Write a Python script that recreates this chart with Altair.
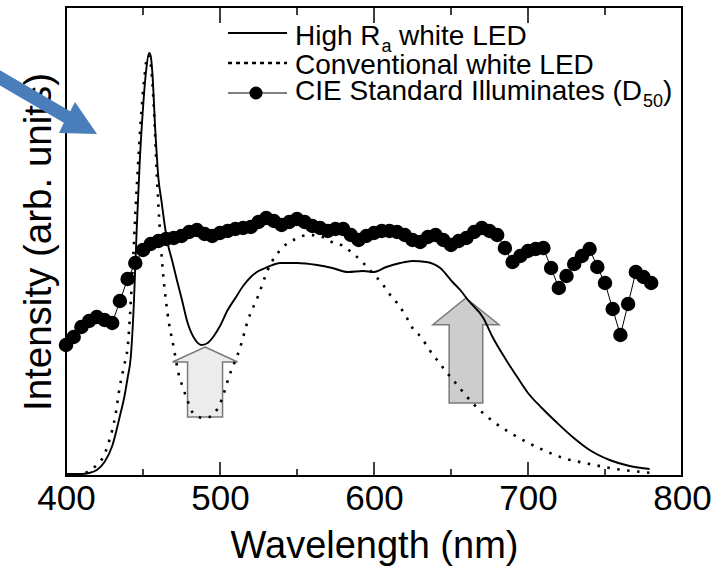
import altair as alt
import pandas as pd

# ---------------- data ----------------
wl_ra = [400, 405, 410, 415, 420, 425, 430, 435, 438, 440, 442, 444, 446, 448, 450, 452, 454, 455,
         456, 458, 460, 462, 464, 466, 469, 472, 475, 479, 484, 488, 492, 496, 500, 505, 510, 515,
         520, 525, 531, 539, 550, 563, 573, 583, 593, 600, 608, 617, 625, 634, 643, 651, 656, 661,
         671, 677, 685, 693, 700, 709, 719, 729, 740, 753, 766, 779]
int_ra = [2, 2, 2, 3, 6, 14, 30, 60, 80, 98, 118, 170, 250, 318, 368, 405, 423, 420,
          405, 345, 298, 275, 252, 233, 215, 196, 178, 153, 136, 131, 133, 140, 150, 166, 178, 190,
          199, 205, 209, 213, 213, 211, 208, 204, 205, 204, 209, 213, 215, 214, 208, 194, 186, 176,
          158, 139, 118, 99, 83, 68, 53, 39, 26, 16, 10, 7]

wl_conv = [400, 405, 408, 415, 420, 423, 428, 432, 435, 438, 440, 443, 446, 449, 451, 453, 455, 457,
           459, 462, 466, 470, 473, 476, 479, 482, 485, 489, 493, 497, 501, 506, 513, 518, 525, 531,
           541, 549, 557, 565, 571, 580, 586, 593, 599, 605, 610, 616, 621, 625, 631, 636, 642, 647,
           653, 664, 677, 692, 707, 723, 740, 757, 774, 780]
int_conv = [1, 1, 1, 5, 11, 16, 35, 60, 90, 112, 128, 200, 290, 365, 400, 421, 412, 370,
            300, 222, 162, 128, 103, 88, 75, 64, 60, 58, 59, 64, 76, 100, 128, 155, 181, 206,
            229, 237, 241, 240, 235, 230, 223, 213, 203, 193, 182, 171, 159, 148, 138, 126, 114, 104,
            93, 73, 55, 40, 28, 18, 12, 7, 4, 3]

wl_d50 = list(range(400, 785, 5))
int_d50 = [131, 139, 149, 155, 159, 156, 153, 175, 197, 213, 226, 232, 235, 237, 238, 240, 244, 246,
           242, 240, 243, 245, 247, 248, 249, 254, 258, 255, 251, 254, 257, 254, 250, 248, 245, 247,
           247, 241, 236, 240, 243, 245, 245, 244, 241, 236, 234, 239, 241, 236, 231, 235, 238, 244,
           248, 245, 241, 228, 214, 220, 225, 227, 228, 208, 188, 200, 212, 220, 227, 209, 193, 167,
           141, 172, 204, 199, 193]

major_ticks = [400, 500, 600, 700, 800]
minor_ticks = [450, 550, 650, 750]

# ---------------- tables ----------------
df_ra = pd.DataFrame({"wl": wl_ra, "v": int_ra})
df_conv = pd.DataFrame({"wl": wl_conv, "v": int_conv})
df_d50 = pd.DataFrame({"wl": wl_d50, "v": int_d50})
df_major = pd.DataFrame({"wl": major_ticks})
df_minor = pd.DataFrame({"wl": minor_ticks})
one = pd.DataFrame({"k": [0]})

W, H = 616, 469
FONT = "Liberation Sans"

xs = alt.Scale(domain=[400, 800], nice=False, zero=False, padding=0)
ys = alt.Scale(domain=[0, 469], nice=False, zero=False, padding=0)

x_axis = alt.Axis(values=major_ticks, ticks=False, domain=False, grid=False,
                  labelFlush=False, labelOverlap=False, labelBound=False,
                  labelFontSize=35, labelFont=FONT, labelColor="black", labelPadding=5,
                  title="Wavelength (nm)", titleFont=FONT, titleFontSize=38,
                  titleFontWeight="normal", titleColor="black", titlePadding=11)
y_axis = alt.Axis(labels=False, ticks=False, domain=False, grid=False,
                  title="Intensity (arb. units)", titleFont=FONT, titleFontSize=38.5,
                  titleFontWeight="normal", titleColor="black", titlePadding=8)

X = alt.X("wl:Q", scale=xs, axis=x_axis)
Y = alt.Y("v:Q", scale=ys, axis=y_axis)

# grey block arrows (annotations, below the curves)
arrow1_path = "M0,-1 L0.93,-0.57 L0.5,-0.57 L0.5,1 L-0.5,1 L-0.5,-0.57 L-0.93,-0.57 Z"
arrow2_path = "M0,-1 L0.63,-0.49 L0.32,-0.49 L0.32,1 L-0.32,1 L-0.32,-0.49 L-0.63,-0.49 Z"
arrow1 = alt.Chart(one).mark_point(shape=arrow1_path, filled=True, fill="#ececec", stroke="#7a7a7a",
                                   strokeWidth=1.5, opacity=1, size=4900).encode(
    x=alt.datum(490.3, scale=xs), y=alt.datum(94, scale=ys))
arrow2 = alt.Chart(one).mark_point(shape=arrow2_path, filled=True, fill="#cdcdcd", stroke="#7a7a7a",
                                   strokeWidth=1.5, opacity=1, size=11025).encode(
    x=alt.datum(659.7, scale=xs), y=alt.datum(125.5, scale=ys))

line_ra = alt.Chart(df_ra).mark_line(color="black", strokeWidth=1.9, interpolate="monotone").encode(x=X, y=Y)
line_conv = alt.Chart(df_conv).mark_line(color="black", strokeWidth=2.6, strokeDash=[2.5, 7.5],
                                         interpolate="monotone").encode(x=X, y=Y)
line_d50 = alt.Chart(df_d50).mark_line(color="black", strokeWidth=1).encode(x=X, y=Y)
pts_d50 = alt.Chart(df_d50).mark_circle(color="black", opacity=1, size=210).encode(x=X, y=Y)

# inward ticks on bottom and top
tick_major_b = alt.Chart(df_major).mark_rule(color="black", strokeWidth=1.5).encode(
    x=alt.X("wl:Q", scale=xs), y=alt.value(H), y2=alt.value(H - 14))
tick_minor_b = alt.Chart(df_minor).mark_rule(color="black", strokeWidth=1.5).encode(
    x=alt.X("wl:Q", scale=xs), y=alt.value(H), y2=alt.value(H - 7))
tick_major_t = alt.Chart(df_major).mark_rule(color="black", strokeWidth=1.5).encode(
    x=alt.X("wl:Q", scale=xs), y=alt.value(0), y2=alt.value(16))
tick_minor_t = alt.Chart(df_minor).mark_rule(color="black", strokeWidth=1.5).encode(
    x=alt.X("wl:Q", scale=xs), y=alt.value(0), y2=alt.value(8))

# legend (drawn inside the plot)
LX0, LX1, TX = 162, 221, 229
leg = []
leg.append(alt.Chart(one).mark_rule(color="black", strokeWidth=2.2).encode(
    x=alt.value(LX0), x2=alt.value(LX1), y=alt.value(26)))
leg.append(alt.Chart(one).mark_rule(color="black", strokeWidth=2.6, strokeDash=[4, 4]).encode(
    x=alt.value(LX0), x2=alt.value(LX1), y=alt.value(56)))
leg.append(alt.Chart(one).mark_rule(color="black", strokeWidth=1.2).encode(
    x=alt.value(LX0), x2=alt.value(LX1), y=alt.value(86)))
leg.append(alt.Chart(one).mark_circle(color="black", opacity=1, size=170).encode(
    x=alt.value(190), y=alt.value(86)))


def txt(s, x, y, size=28):
    return alt.Chart(one).mark_text(align="left", baseline="alphabetic", font=FONT, fontSize=size,
                                    color="black").encode(x=alt.value(x), y=alt.value(y), text=alt.value(s))


leg += [
    txt("High R", TX, 38),
    txt("a", 315.5, 45, 18),
    txt("white LED", 333, 38),
    txt("Conventional white LED", TX, 67),
    txt("CIE Standard Illuminates (D", TX, 93),
    txt("50", 577, 100, 18),
    txt(")", 597, 93),
]

# blue pointer arrow at the top left (outside the frame)
blue_path = ("M-1.036,-0.714 L0.404,0.126 L0.5,-0.06 L0.94,0.58 L0.18,0.56 "
             "L0.276,0.354 L-1.164,-0.486 Z")
blue = alt.Chart(one).mark_point(shape=blue_path, filled=True, fill="#4a7ebb", opacity=1,
                                 strokeWidth=0, size=10000).encode(
    x=alt.value(-16), y=alt.value(98))

chart = alt.layer(
    arrow1, arrow2, line_conv, line_ra, line_d50, pts_d50,
    tick_major_b, tick_minor_b, tick_major_t, tick_minor_t,
    *leg, blue
).properties(
    width=W, height=H,
    autosize=alt.AutoSizeParams(type="none"),
    padding={"left": 66, "top": 7, "right": 46, "bottom": 99},
    background="white",
).configure_view(stroke="black", strokeWidth=2)

chart.save("out.html", embed_options={"renderer": "svg", "actions": False})
